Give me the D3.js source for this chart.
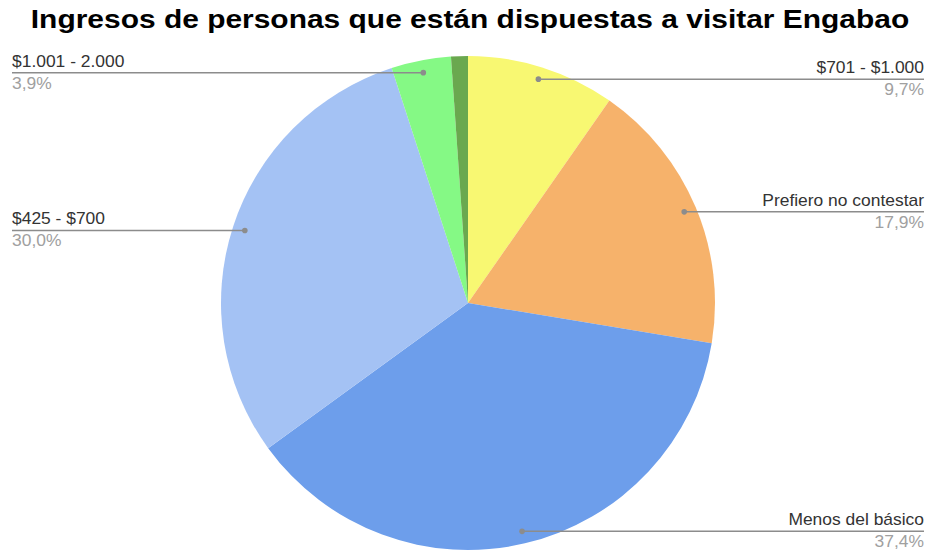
<!DOCTYPE html>
<html>
<head>
<meta charset="utf-8">
<script src="https://cdn.jsdelivr.net/npm/d3@7"></script>
<style>
  html, body { margin: 0; padding: 0; background: #fff; }
  svg { display: block; font-family: "Liberation Sans", Arial, sans-serif; }
</style>
</head>
<body>
<svg id="chart" width="928" height="552"></svg>
<script>
// Income groups, clockwise from 12 o'clock
const categories = ["$701 - $1.000", "Prefiero no contestar", "Menos del básico", "$425 - $700", "$1.001 - 2.000", "Otro"];
const values = [9.7, 17.9, 37.4, 30.0, 3.9, 1.1];
const colors = ["#f8f872", "#f6b26b", "#6d9eeb", "#a4c2f4", "#85f985", "#6aa84f"];
const labelled = [true, true, true, true, true, false];

const W = 928, H = 552;
const cx = 468, cy = 303, R = 247;

const svg = d3.select("#chart");

// Text drawn with a slightly widened face
function wideText(parent, x, y, sx, anchor, size, fill, weight, str) {
  return parent.append("text")
    .attr("transform", `translate(${x},${y}) scale(${sx},1)`)
    .attr("text-anchor", anchor)
    .attr("font-size", size)
    .attr("font-weight", weight)
    .attr("fill", fill)
    .text(str);
}

wideText(svg, 470, 28, 1.13, "middle", 26.5, "#000", "bold",
  "Ingresos de personas que están dispuestas a visitar Engabao");

const data = categories.map((c, i) => ({ name: c, value: values[i], color: colors[i], label: labelled[i] }));

const pie = d3.pie().sort(null).value(d => d.value);
const arcs = pie(data);
const arc = d3.arc().innerRadius(0).outerRadius(R);

const g = svg.append("g").attr("transform", `translate(${cx},${cy})`);

g.selectAll("path")
  .data(arcs)
  .join("path")
  .attr("d", arc)
  .attr("fill", d => d.data.color);

// Leader lines with a dot inside the slice, label above and percentage below
const fmt = v => v.toFixed(1).replace(".", ",") + "%";
const anchorR = R * 0.95;
const leftX = 12, rightX = 924;

const lab = svg.append("g");
arcs.filter(d => d.data.label).forEach(d => {
  const a = (d.startAngle + d.endAngle) / 2;
  const px = cx + Math.sin(a) * anchorR;
  const py = cy - Math.cos(a) * anchorR;
  const right = Math.sin(a) >= 0;
  const ex = right ? rightX : leftX;
  const anchor = right ? "end" : "start";

  lab.append("line")
    .attr("x1", px).attr("y1", py)
    .attr("x2", ex).attr("y2", py)
    .attr("stroke", "#8c8c8c")
    .attr("stroke-width", 1.5);
  lab.append("circle")
    .attr("cx", px).attr("cy", py).attr("r", 2.8)
    .attr("fill", "#8c8c8c");
  wideText(lab, ex, py - 6, 1.09, anchor, 16, "#333", "normal", d.data.name);
  wideText(lab, ex, py + 16, 1.09, anchor, 16, "#a0a0a0", "normal", fmt(d.data.value));
});
</script>
</body>
</html>
